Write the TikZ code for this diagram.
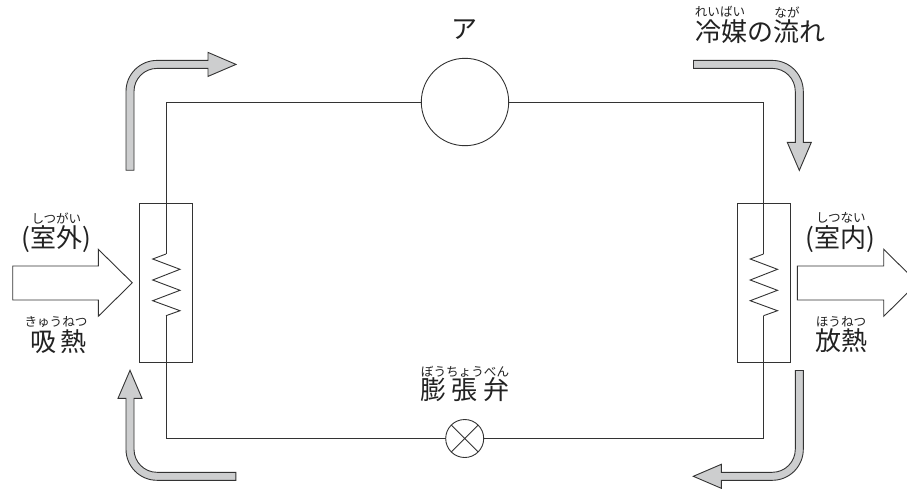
\documentclass[tikz,border=0pt]{standalone}
\usepackage{fontspec}
\usetikzlibrary{calc}
\newfontfamily\cjk{Noto Sans CJK JP}
\definecolor{ink}{HTML}{333333}
\definecolor{flowgray}{HTML}{CDCECF}
\definecolor{txt}{HTML}{222222}
\tikzset{
  pipe/.style={draw=ink,line width=0.9pt,line join=miter},
  partbox/.style={draw=ink,line width=0.9pt,rectangle,minimum width=53pt,minimum height=159pt,inner sep=0pt,outer sep=0pt},
  partcirc/.style={draw=ink,line width=0.9pt,circle,inner sep=0pt,outer sep=0pt,fill=white},
  heatarrow/.style={draw=ink,line width=0.9pt,fill=white,line join=miter},
  flowarrow/.style={draw=ink,line width=0.9pt,fill=flowgray,line join=miter},
  bigtext/.style={inner sep=0pt,text=txt,font=\cjk\fontsize{26}{26}\selectfont},
  rubytext/.style={inner sep=0pt,text=txt,font=\cjk\fontsize{12.6}{13}\selectfont}
}
\newcommand{\bentflow}[2]{%
  \draw[flowarrow,shift={(#1)},rotate=#2]
    (-4,105.8) -- (-4,27) .. controls (-4,9.88) and (9.88,-4) .. (27,-4)
    -- (78,-4) -- (78,-12) -- (106,0) -- (78,12) -- (78,4) -- (27,4)
    .. controls (14.3,4) and (4,14.3) .. (4,27) -- (4,105.8) -- cycle;}
\newcommand{\zigzag}[2]{%
  \draw[pipe] (#1) -- ++(-13.3,5) -- ++(27.3,10.3) -- ++(-27.3,10.7) -- ++(27.3,10.3)
    -- ++(-27.3,10.4) -- ++(27.3,10) -- (#2);}
\begin{document}
\begin{tikzpicture}[x=1pt,y=-1pt]
\clip (0,0) rectangle (907,488);
\fill[white] (0,0) rectangle (907,488);
% components
\node[partbox] (L) at (166,283) {};
\node[partbox] (R) at (763.5,283) {};
\node[partcirc,minimum size=87.4pt] (A) at (465,102) {};
\node[partcirc,minimum size=38pt] (V) at (464.7,438.5) {};
\draw[pipe] (V.45) -- (V.225) (V.135) -- (V.315);
% internal points of the coils
\coordinate (Lt) at ($(L.center)+(0,-29)$);
\coordinate (Lb) at ($(L.center)+(0,32.7)$);
\coordinate (Rt) at ($(R.center)+(0,-29)$);
\coordinate (Rb) at ($(R.center)+(0,32.7)$);
\coordinate (LL) at (166,438.5);
\coordinate (RR) at (763.5,438.5);
% pipes
\draw[pipe] (A.west) -| (Lt);
\draw[pipe] (A.east) -| (Rt);
\draw[pipe] (V.west) -- (LL) -- (Lb);
\draw[pipe] (V.east) -- (RR) -- (Rb);
\zigzag{Lt}{Lb}
\zigzag{Rt}{Rb}
% heat arrows
\draw[heatarrow] (12.7,266) -- (98.3,266) -- (98.3,249.3) -- (132.3,282.8) -- (98.3,316.3) -- (98.3,300) -- (12.7,300) -- cycle;
\draw[heatarrow] (797.3,266) -- (883.7,266) -- (883.7,249.3) -- (917.7,282.8) -- (883.7,316.3) -- (883.7,300) -- (797.3,300) -- cycle;
% refrigerant flow arrows
\bentflow{130,64.4}{0}
\bentflow{799.3,64.4}{-90}
\bentflow{799.3,476.3}{-180}
\bentflow{130,476.3}{-270}
% labels
\node[bigtext] (tA) at (464,30) {ア};
\node[bigtext] (t1) at (760,32) {冷媒の流れ};
\node[rubytext] (r1a) at (720,12) {れいばい};
\node[rubytext] (r1b) at (787,12) {なが};
\node[bigtext] (t2) at (56.5,239) {(室外)};
\node[rubytext] (r2) at (56.5,218) {しつがい};
\node[bigtext] (t3) at (840,239) {(室内)};
\node[rubytext] (r3) at (841,218) {しつない};
\node[bigtext] (t4) at (58.5,342) {吸\hspace{4pt}熱};
\node[rubytext] (r4) at (56,322) {きゅうねつ};
\node[bigtext] (t5) at (841,341) {放熱};
\node[rubytext] (r5) at (841,322) {ほうねつ};
\node[bigtext] (t6) at (465,390) {膨\hspace{6pt}張\hspace{6pt}弁};
\node[rubytext] (r6) at (465,372) {ぼうちょうべん};
\end{tikzpicture}
\end{document}
